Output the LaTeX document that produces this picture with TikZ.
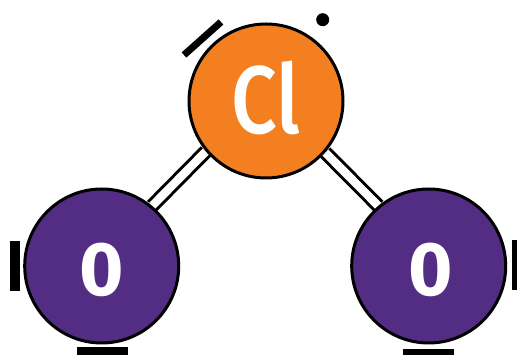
\documentclass[tikz,border=0pt]{standalone}
\usepackage{fontspec}
\setmainfont{Fira Sans}
\newfontfamily\clfont{Fira Sans Medium}
\usetikzlibrary{backgrounds}
\definecolor{clorange}{HTML}{F37F21}
\definecolor{opurple}{HTML}{522D83}
\tikzset{
  x=1pt,y=1pt,
  atom/.style={circle,draw=black,line width=3pt,minimum size=154pt,inner sep=0pt},
  atomtext/.style={text=white,inner sep=0pt},
  bond/.style={draw=black,line width=3pt,double=white,double distance=8.4pt},
  lonepair/.style={draw=black,line width=8pt},
  lonepairtop/.style={draw=black,line width=7pt}
}
\begin{document}
\begin{tikzpicture}
\useasboundingbox (0,0) rectangle (517,355);
\node[atom,fill=clorange] (cl) at (266,254) {};
\node[atom,fill=opurple] (ol) at (101.7,89) {};
\node[atom,fill=opurple] (or) at (428.7,89) {};
\node[atomtext,font=\clfont\fontsize{96}{96}\selectfont] (cltext) at (266,257) {\scalebox{0.84}[1]{Cl}};
\node[atomtext,font=\bfseries\fontsize{76}{76}\selectfont] (oltext) at (101.7,85) {0};
\node[atomtext,font=\bfseries\fontsize{76}{76}\selectfont] (ortext) at (431,85) {0};
\begin{scope}[on background layer]
\path[bond] (cl.220.5) -- (ol.50.3);
\path[bond] (cl.-41.4) -- (or.130.7);
\end{scope}
\coordinate (a1) at (184,300);
\coordinate (a2) at (221,333);
\draw[lonepairtop] (a1) -- (a2);
\coordinate (b1) at (14.5,114);
\coordinate (b2) at (14.5,64);
\draw[lonepair,line width=10pt] (b1) -- (b2);
\coordinate (c1) at (77,4);
\coordinate (c2) at (128,4);
\draw[lonepair] (c1) -- (c2);
\coordinate (d1) at (514.5,115);
\coordinate (d2) at (514.5,65);
\draw[lonepair,line width=6pt] (d1) -- (d2);
\coordinate (e1) at (403,3);
\coordinate (e2) at (454,3);
\draw[lonepair,line width=6pt] (e1) -- (e2);
\node[circle,fill=black,minimum size=13pt,inner sep=0pt] (dot) at (322.7,335.3) {};
\end{tikzpicture}
\end{document}
